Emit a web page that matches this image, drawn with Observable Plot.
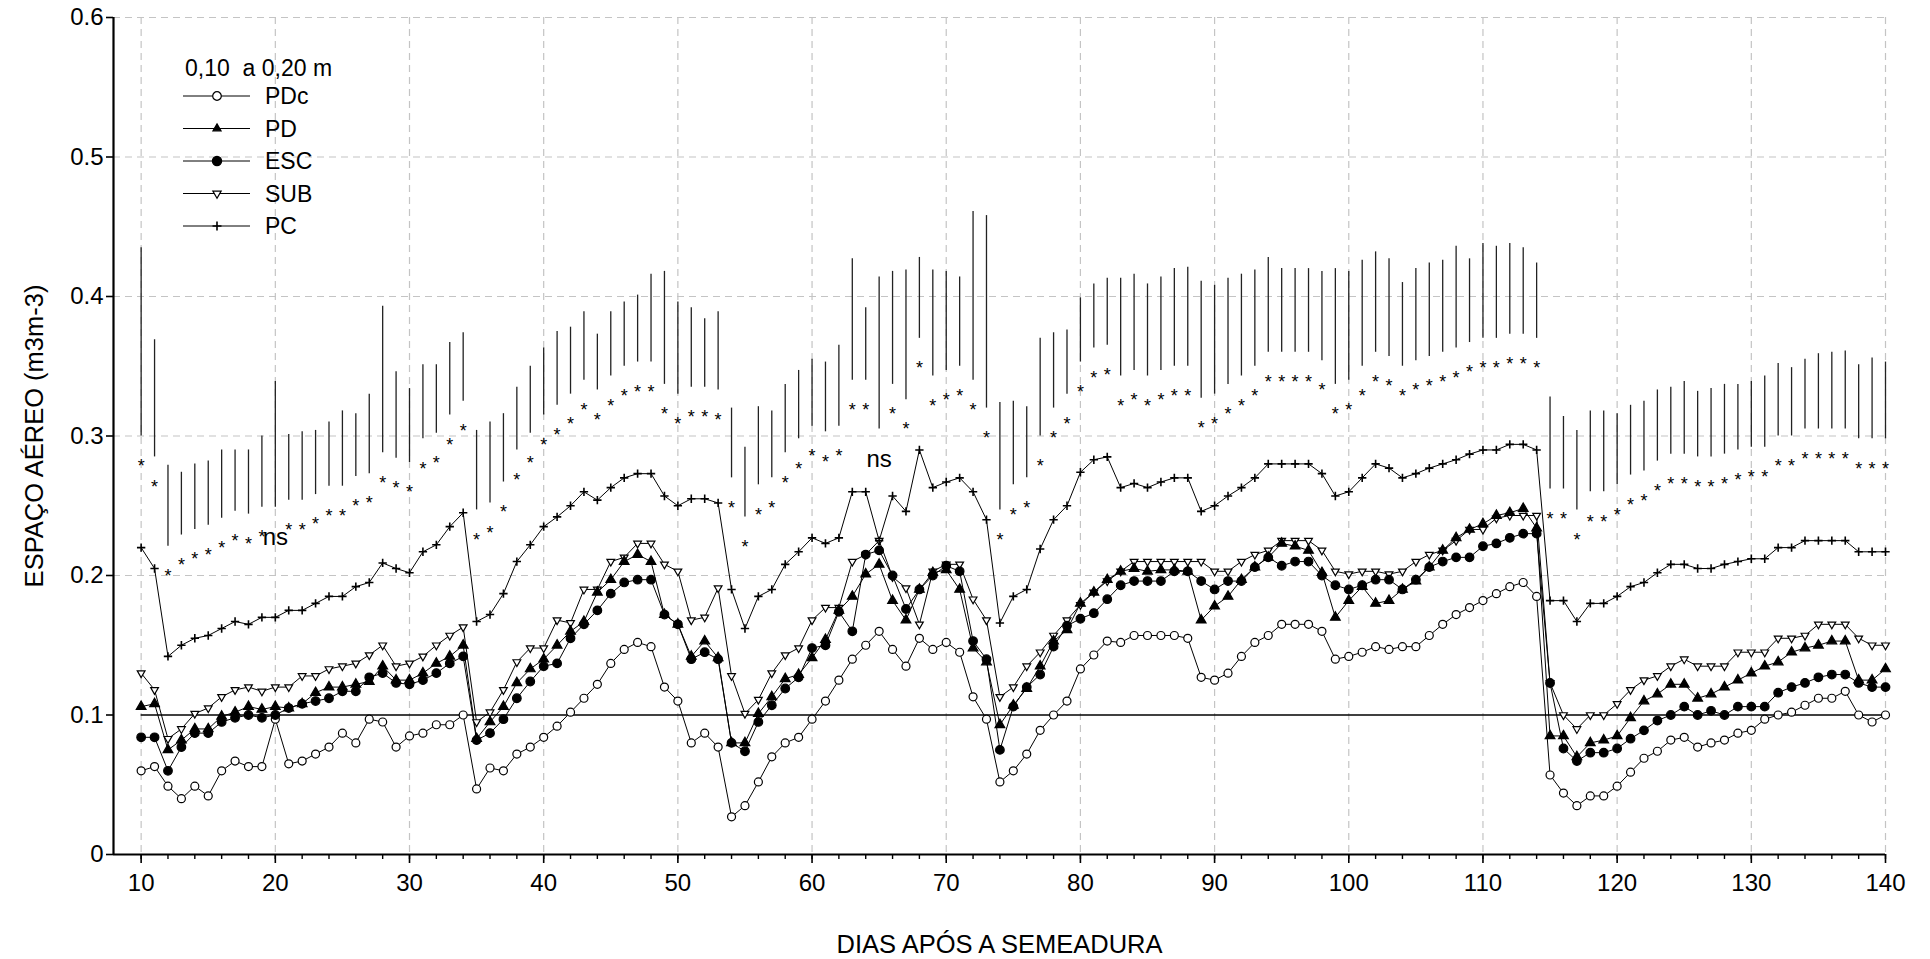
<!DOCTYPE html>
<html><head><meta charset="utf-8">
<script src="https://cdn.jsdelivr.net/npm/d3@7"></script>
<script src="https://cdn.jsdelivr.net/npm/@observablehq/plot@0.6"></script>
<style>body{margin:0;background:#fff;overflow:hidden}</style>
</head><body><div id="chart"></div>
<script>
// ---- data ----
const days = [10,11,12,13,14,15,16,17,18,19,20,21,22,23,24,25,26,27,28,29,30,31,32,33,34,35,36,37,38,39,40,41,42,43,44,45,46,47,48,49,50,51,52,53,54,55,56,57,58,59,60,61,62,63,64,65,66,67,68,69,70,71,72,73,74,75,76,77,78,79,80,81,82,83,84,85,86,87,88,89,90,91,92,93,94,95,96,97,98,99,100,101,102,103,104,105,106,107,108,109,110,111,112,113,114,115,116,117,118,119,120,121,122,123,124,125,126,127,128,129,130,131,132,133,134,135,136,137,138,139,140];

const pdc = [.060,.063,.049,.040,.049,.042,.060,.067,.063,.063,
.097,.065,.067,.072,.077,.087,.080,.097,.095,.077,
.085,.087,.093,.093,.100,.047,.062,.060,.072,.077,
.084,.092,.102,.112,.122,.137,.147,.152,.149,.120,
.110,.080,.087,.077,.027,.035,.052,.070,.080,.084,
.097,.110,.125,.140,.150,.160,.147,.135,.155,.147,
.152,.145,.113,.097,.052,.060,.072,.089,.100,.110,
.133,.143,.153,.152,.157,.157,.157,.157,.155,.127,
.125,.130,.142,.152,.157,.165,.165,.165,.160,.140,
.142,.145,.149,.147,.149,.149,.157,.165,.172,.177,
.182,.187,.192,.195,.185,.057,.044,.035,.042,.042,
.049,.059,.069,.074,.082,.084,.077,.080,.082,.087,
.089,.097,.100,.102,.107,.112,.112,.117,.100,.095,
.100];

const pd = [.106,.108,.075,.082,.090,.090,.099,.102,.106,.104,
.106,.105,.108,.116,.120,.120,.122,.124,.135,.125,
.125,.130,.137,.142,.150,.083,.095,.106,.123,.133,
.140,.150,.160,.167,.188,.197,.210,.215,.210,.172,
.165,.142,.153,.141,.080,.080,.101,.113,.126,.129,
.141,.154,.175,.185,.201,.208,.182,.168,.190,.202,
.204,.190,.148,.138,.093,.107,.119,.135,.153,.161,
.180,.188,.197,.203,.205,.203,.204,.204,.203,.168,
.178,.185,.197,.206,.213,.223,.221,.218,.202,.170,
.182,.192,.180,.182,.190,.196,.206,.218,.227,.233,
.237,.243,.245,.248,.234,.085,.085,.070,.080,.082,
.085,.098,.110,.115,.122,.122,.112,.115,.120,.125,
.130,.135,.138,.145,.148,.150,.153,.153,.125,.125,
.133];

const esc = [.084,.084,.060,.077,.087,.087,.095,.098,.100,.098,
.100,.105,.108,.110,.112,.117,.117,.127,.130,.123,
.122,.125,.130,.137,.142,.082,.087,.097,.112,.124,
.135,.137,.155,.165,.175,.187,.195,.197,.197,.172,
.165,.140,.145,.140,.080,.074,.095,.107,.119,.127,
.148,.150,.174,.160,.215,.218,.200,.176,.190,.200,
.207,.203,.153,.140,.075,.106,.120,.129,.149,.164,
.169,.173,.183,.193,.196,.196,.196,.203,.203,.196,
.190,.196,.196,.206,.213,.207,.210,.210,.200,.193,
.190,.193,.197,.197,.190,.197,.206,.210,.213,.213,
.221,.223,.227,.230,.230,.123,.076,.067,.073,.073,
.076,.083,.089,.096,.100,.106,.100,.103,.100,.106,
.106,.106,.116,.120,.123,.127,.129,.129,.123,.120,
.120];

const sub = [.130,.118,.083,.090,.101,.105,.113,.118,.120,.117,
.120,.120,.128,.128,.133,.135,.137,.143,.150,.135,
.137,.142,.150,.157,.163,.095,.102,.118,.138,.148,
.148,.168,.166,.190,.190,.210,.213,.223,.223,.208,
.203,.168,.170,.191,.128,.101,.111,.130,.143,.148,
.168,.177,.177,.210,.215,.225,.199,.191,.165,.203,
.208,.208,.183,.168,.113,.120,.135,.145,.157,.168,
.179,.188,.196,.203,.210,.210,.210,.210,.210,.210,
.203,.203,.210,.215,.218,.225,.225,.225,.218,.203,
.201,.203,.203,.201,.203,.210,.215,.218,.225,.233,
.233,.241,.243,.243,.243,.123,.100,.090,.100,.100,
.108,.118,.125,.128,.135,.140,.135,.135,.135,.145,
.145,.145,.155,.155,.157,.165,.165,.165,.155,.150,
.150];

const pc = [.220,.205,.142,.150,.155,.157,.162,.167,.165,.170,
.170,.175,.175,.180,.185,.185,.192,.195,.209,.205,
.202,.217,.222,.235,.245,.167,.172,.187,.210,.222,
.235,.242,.250,.260,.254,.263,.270,.273,.273,.257,
.250,.255,.255,.252,.190,.162,.185,.190,.208,.217,
.227,.223,.227,.260,.260,.225,.257,.246,.290,.263,
.267,.270,.260,.240,.166,.185,.190,.219,.240,.250,
.274,.283,.285,.263,.266,.263,.267,.270,.270,.246,
.250,.257,.263,.270,.280,.280,.280,.280,.273,.257,
.260,.270,.280,.277,.270,.273,.277,.280,.283,.287,
.290,.290,.294,.294,.290,.182,.182,.167,.180,.180,
.185,.192,.195,.202,.208,.208,.205,.205,.208,.210,
.212,.212,.220,.220,.225,.225,.225,.225,.217,.217,
.217];

// vertical bars (top and bottom) and significance labels
const barTop = [.435,.369,.279,.274,.280,.282,.290,.290,.290,.300,
.339,.301,.303,.304,.310,.318,.316,.330,.393,.346,
.334,.351,.351,.367,.374,.304,.310,.316,.335,.350,
.363,.375,.378,.389,.373,.389,.396,.401,.416,.418,
.396,.392,.384,.389,.320,.292,.321,.318,.337,.347,
.355,.353,.365,.427,.392,.414,.418,.419,.428,.419,
.418,.414,.461,.458,.324,.325,.321,.370,.374,.376,
.399,.409,.413,.413,.416,.409,.414,.420,.421,.411,
.408,.413,.416,.419,.428,.420,.420,.420,.418,.420,
.418,.426,.432,.427,.410,.420,.424,.426,.436,.427,
.438,.436,.438,.435,.424,.328,.314,.304,.318,.318,
.316,.322,.325,.333,.335,.339,.332,.334,.337,.337,
.339,.343,.352,.349,.355,.359,.360,.361,.351,.356,
.353];
const barBottom = [.300,.285,.221,.229,.233,.236,.241,.246,.244,.249,
.249,.254,.254,.258,.264,.264,.271,.273,.288,.284,
.281,.298,.302,.315,.325,.247,.252,.267,.290,.302,
.315,.322,.330,.340,.333,.343,.350,.353,.353,.337,
.330,.335,.335,.333,.270,.242,.265,.270,.288,.298,
.307,.303,.307,.340,.340,.305,.337,.326,.370,.343,
.347,.350,.340,.320,.247,.265,.270,.300,.320,.330,
.353,.363,.365,.343,.347,.343,.347,.350,.350,.327,
.330,.337,.343,.350,.360,.360,.360,.360,.354,.337,
.340,.350,.360,.357,.350,.354,.357,.360,.363,.367,
.370,.370,.373,.373,.370,.262,.262,.247,.260,.260,
.265,.272,.275,.282,.287,.287,.285,.285,.287,.290,
.292,.292,.300,.300,.305,.305,.305,.305,.298,.298,
.298];
const nsDays = [20, 65];

const refLine = [0.1];
const xTicks = [10,20,30,40,50,60,70,80,90,100,110,120,130,140];
const yTicks = [0,0.1,0.2,0.3,0.4,0.5,0.6];
const xDomain = [7.94, 140];
const legendTitle = "0,10  a 0,20 m";
const seriesNames = ["PDc","PD","ESC","SUB","PC"];
const drawOrder = ["SUB","PDc","PC","PD","ESC"];
const xTitle = "DIAS APÓS A SEMEADURA";
const yTitle = "ESPAÇO AÉREO (m3m-3)";

// ---- build ----
const downTriangle = {draw(ctx, size){const s=Math.sqrt(size)*0.6824,t=s/2,u=s*Math.sqrt(3)/2;ctx.moveTo(0,s);ctx.lineTo(-u,-t);ctx.lineTo(u,-t);ctx.closePath();}};
const seriesValues = {PDc: pdc, PD: pd, ESC: esc, SUB: sub, PC: pc};
const styles = {
  PDc: {symbol: "circle", d3sym: d3.symbolCircle, fill: "white", r: 4},
  PD:  {symbol: "triangle", d3sym: d3.symbolTriangle2, fill: "black", r: 3.6},
  ESC: {symbol: "circle", d3sym: d3.symbolCircle, fill: "black", r: 4.3},
  SUB: {symbol: downTriangle, d3sym: downTriangle, fill: "white", r: 3.7},
  PC:  {symbol: "plus", d3sym: d3.symbolPlus, fill: "none", r: 2.8}
};
const rows = [];
for (const name of seriesNames) seriesValues[name].forEach((v,i)=>rows.push({day: days[i], value: v, series: name}));
const bars = days.map((d,i)=>({day: d, hi: barTop[i], lo: barBottom[i], label: nsDays.includes(d) ? "ns" : "*"}));

const font = "'Liberation Sans Narrow','Arial Narrow','Liberation Sans',sans-serif";
const titleFont = "'Liberation Sans',Arial,sans-serif";
const marks = [
  Plot.gridX(xTicks, {stroke: "#c4c4c4", strokeOpacity: 1, strokeDasharray: "7,5", strokeWidth: 1.2}),
  Plot.gridY(yTicks.filter(v => v > 0.15), {stroke: "#c4c4c4", strokeOpacity: 1, strokeDasharray: "7,5", strokeWidth: 1.2}),
  Plot.ruleX(bars, {x: "day", y1: "lo", y2: "hi", stroke: "#222", strokeWidth: 1.3}),
  Plot.text(bars.filter(d => d.label === "*"), {x: "day", y: "lo", text: "label", fontSize: 18, dy: 30, fill: "black"}),
  Plot.text(bars.filter(d => d.label === "ns"), {x: "day", y: "lo", text: "label", fontSize: 24, dy: 30, fill: "black"}),
  Plot.ruleY(refLine, {x1: days[0], x2: days[days.length-1], stroke: "black", strokeWidth: 1.6}),
  Plot.line(rows, {x: "day", y: "value", z: "series", stroke: "black", strokeWidth: 1}),
  ...drawOrder.map(name => Plot.dot(rows.filter(r => r.series === name), {
    x: "day", y: "value", symbol: styles[name].symbol, r: styles[name].r,
    fill: styles[name].fill, stroke: "black", strokeWidth: name === "PC" ? 1.6 : 1.2
  })),
  Plot.ruleY([yTicks[0]], {stroke: "black", strokeWidth: 2.2}),
  Plot.ruleX([xDomain[0]], {stroke: "black", strokeWidth: 2.2}),
  Plot.axisX(days.filter(d => d % 2 === 0), {tickSize: 5, tickFormat: () => "", strokeWidth: 1.4}),
  Plot.axisX(xTicks, {tickSize: 9, tickPadding: 10, tickFormat: d => String(d), fontSize: 24, strokeWidth: 1.6, label: null}),
  Plot.axisY(yTicks, {tickSize: 7, tickPadding: 3, tickFormat: d => d === 0 ? "0" : d.toFixed(1), fontSize: 24, strokeWidth: 1.6, label: null}),
  Plot.text([xTitle], {frameAnchor: "bottom", dy: 90, lineAnchor: "middle", textAnchor: "middle", fontSize: 25.5, fontFamily: titleFont, fill: "black"}),
  Plot.text([yTitle], {frameAnchor: "left", dx: -79, rotate: -90, lineAnchor: "middle", textAnchor: "middle", fontSize: 25.5, fontFamily: titleFont, fill: "black", letterSpacing: "1.2px"})
];

const svg = Plot.plot({
  width: 1930, height: 959,
  marginTop: 17, marginRight: 45, marginBottom: 105, marginLeft: 113,
  x: {domain: xDomain, label: null},
  y: {domain: [0, 0.6], label: null},
  style: {fontFamily: font, fontSize: "24px", background: "white", color: "black", overflow: "visible"},
  marks
});

// legend inside plot area
const g = d3.select(svg).append("g").attr("font-family", font).attr("font-size", 23).attr("fill", "black").attr("text-anchor", "start");
g.append("text").attr("x", 185).attr("y", 68).attr("dy", "0.35em").text(legendTitle);
seriesNames.forEach((name, i) => {
  const y = 96 + i * 32.5, st = styles[name];
  g.append("line").attr("x1", 183).attr("x2", 250).attr("y1", y).attr("y2", y).attr("stroke", "black").attr("stroke-width", 1);
  g.append("path").attr("d", d3.symbol(st.d3sym, Math.PI * st.r * st.r * 1.15)()).attr("transform", `translate(217,${y})`)
    .attr("fill", st.fill).attr("stroke", "black").attr("stroke-width", name === "PC" ? 1.6 : 1.2);
  g.append("text").attr("x", 265).attr("y", y).attr("dy", "0.35em").text(name);
});
document.getElementById("chart").appendChild(svg);
</script></body></html>
